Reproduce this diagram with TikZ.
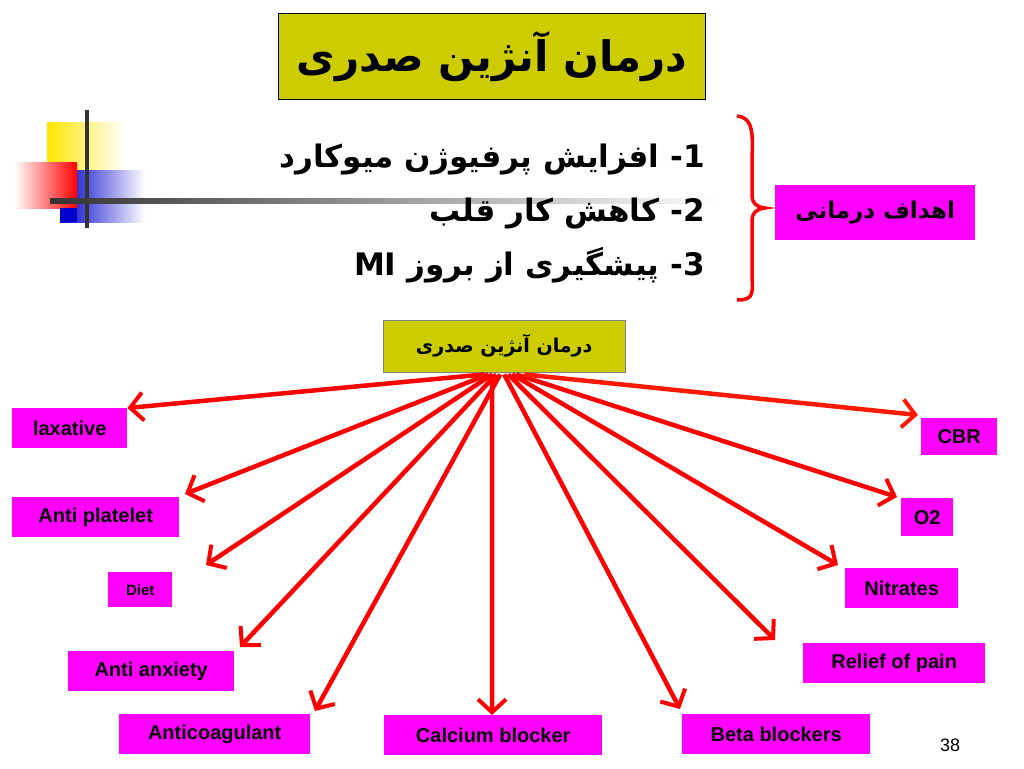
\documentclass[tikz,border=0pt]{standalone}
\usepackage{fontspec}
\setmainfont{Liberation Sans}
\newfontfamily\arabicfont[Script=Arabic]{DejaVu Sans}
\TeXXeTstate=1
\usetikzlibrary{arrows.meta}
\definecolor{olv}{RGB}{204,204,0}
\definecolor{mag}{RGB}{255,0,255}
\tikzset{
 lbl/.style={fill=mag,anchor=north west,inner sep=0pt,font=\bfseries\fontsize{20}{20}\selectfont,align=center},
 arr/.style={draw=red,line width=4.5pt,-{Straight Barb[length=13pt,width=28pt,line width=4pt]}},
}
\newcommand{\bx}[5]{\node[lbl,minimum width=#3pt,minimum height=#4pt] (#1) at (#2) {#5};}
\begin{document}
\begin{tikzpicture}[x=1pt,y=-1pt]
\useasboundingbox (0,0) rectangle (1024,768);
% decoration
\shade[left color=yellow!80!orange,right color=white] (47,122) rectangle (125,185);
\shade[left color=blue!80!black,right color=white] (60,170) rectangle (145,222);
\shade[right color=red,left color=white] (14,162) rectangle (77,208);
\fill[blue!80!black] (60,208) rectangle (77,222);
\draw[line width=3.5pt,black!80] (87,110) -- (87,228);
\shade[left color=black!80,right color=white] (50,198) rectangle (720,203);
% title
\node[fill=olv,draw=black,line width=0.5pt,minimum width=427pt,minimum height=86pt,anchor=north west,inner sep=0pt,font=\arabicfont\bfseries\fontsize{42}{42}\selectfont] (title) at (278,13) {\beginR درمان آنژین صدری\endR};
\node[anchor=north east,align=right,font=\arabicfont\bfseries\fontsize{31}{54}\selectfont,inner sep=0pt] (list) at (705,144) {\beginR 1- افزایش پرفیوژن میوکارد\endR\\ \beginR 2- کاهش کار قلب\endR\\ \beginR 3- پیشگیری از بروز \beginL MI\endL\endR};
\draw[red,line width=3.5pt] (737,116) .. controls (756,118) and (752,140) .. (752,165) -- (752,195) .. controls (752,203) and (756,207) .. (765,208) .. controls (756,209) and (752,213) .. (752,221) -- (752,270) .. controls (752,292) and (756,300) .. (737,300);
\node[fill=mag,minimum width=200pt,minimum height=55pt,anchor=north west,inner sep=0pt,font=\arabicfont\bfseries\fontsize{23}{23}\selectfont] (goal) at (775,185) {\beginR اهداف درمانی\endR};
\node[fill=olv,draw=black!50,minimum width=242pt,minimum height=52pt,anchor=north west,inner sep=0pt,font=\arabicfont\bfseries\fontsize{19}{19}\selectfont] (ctr) at (383,320) {\beginR درمان آنژین صدری\endR};
% boxes
\bx{lax}{12,408}{115}{40}{laxative}
\bx{cbr}{921,418}{76}{37}{CBR}
\bx{ap}{12,497}{167}{40}{Anti platelet}
\bx{o2}{901,498}{52}{38}{O2}
\node[lbl,minimum width=64pt,minimum height=35pt,font=\bfseries\fontsize{15}{15}\selectfont] (diet) at (108,572) {Diet};
\bx{nit}{845,568}{113}{40}{Nitrates}
\bx{anx}{68,651}{166}{40}{Anti anxiety}
\bx{rel}{803,643}{182}{40}{Relief of pain}
\bx{acg}{119,714}{191}{40}{Anticoagulant}
\bx{cal}{384,715}{218}{40}{Calcium blocker}
\bx{bet}{682,714}{188}{40}{Beta blockers}
\node[font=\fontsize{18}{18}\selectfont] (pg) at (950,745) {38};
% arrows
\coordinate (o) at (492,374);
\draw[arr] (ctr.south) ++(-20,2) -- (lax.north east);
\draw[arr] (ctr.south) ++(-16,2) -- (185,494);
\draw[arr] (ctr.south) ++(-12,2) -- (206,565);
\draw[arr] (ctr.south) ++(-8,2) -- (240,647);
\draw[arr] (ctr.south) ++(-4,2) -- (315,711);
\draw[arr] (ctr.south) ++(-12,2) -- (cal.north -| o);
\draw[arr] (ctr.south) ++(0,2) -- (680,709);
\draw[arr] (ctr.south) ++(4,2) -- (775,640);
\draw[arr] (ctr.south) ++(8,2) -- (838,565);
\draw[arr] (ctr.south) ++(12,2) -- (897,497);
\draw[arr,draw=red!80!orange] (ctr.south) ++(20,2) -- (918,415);
\end{tikzpicture}
\end{document}
